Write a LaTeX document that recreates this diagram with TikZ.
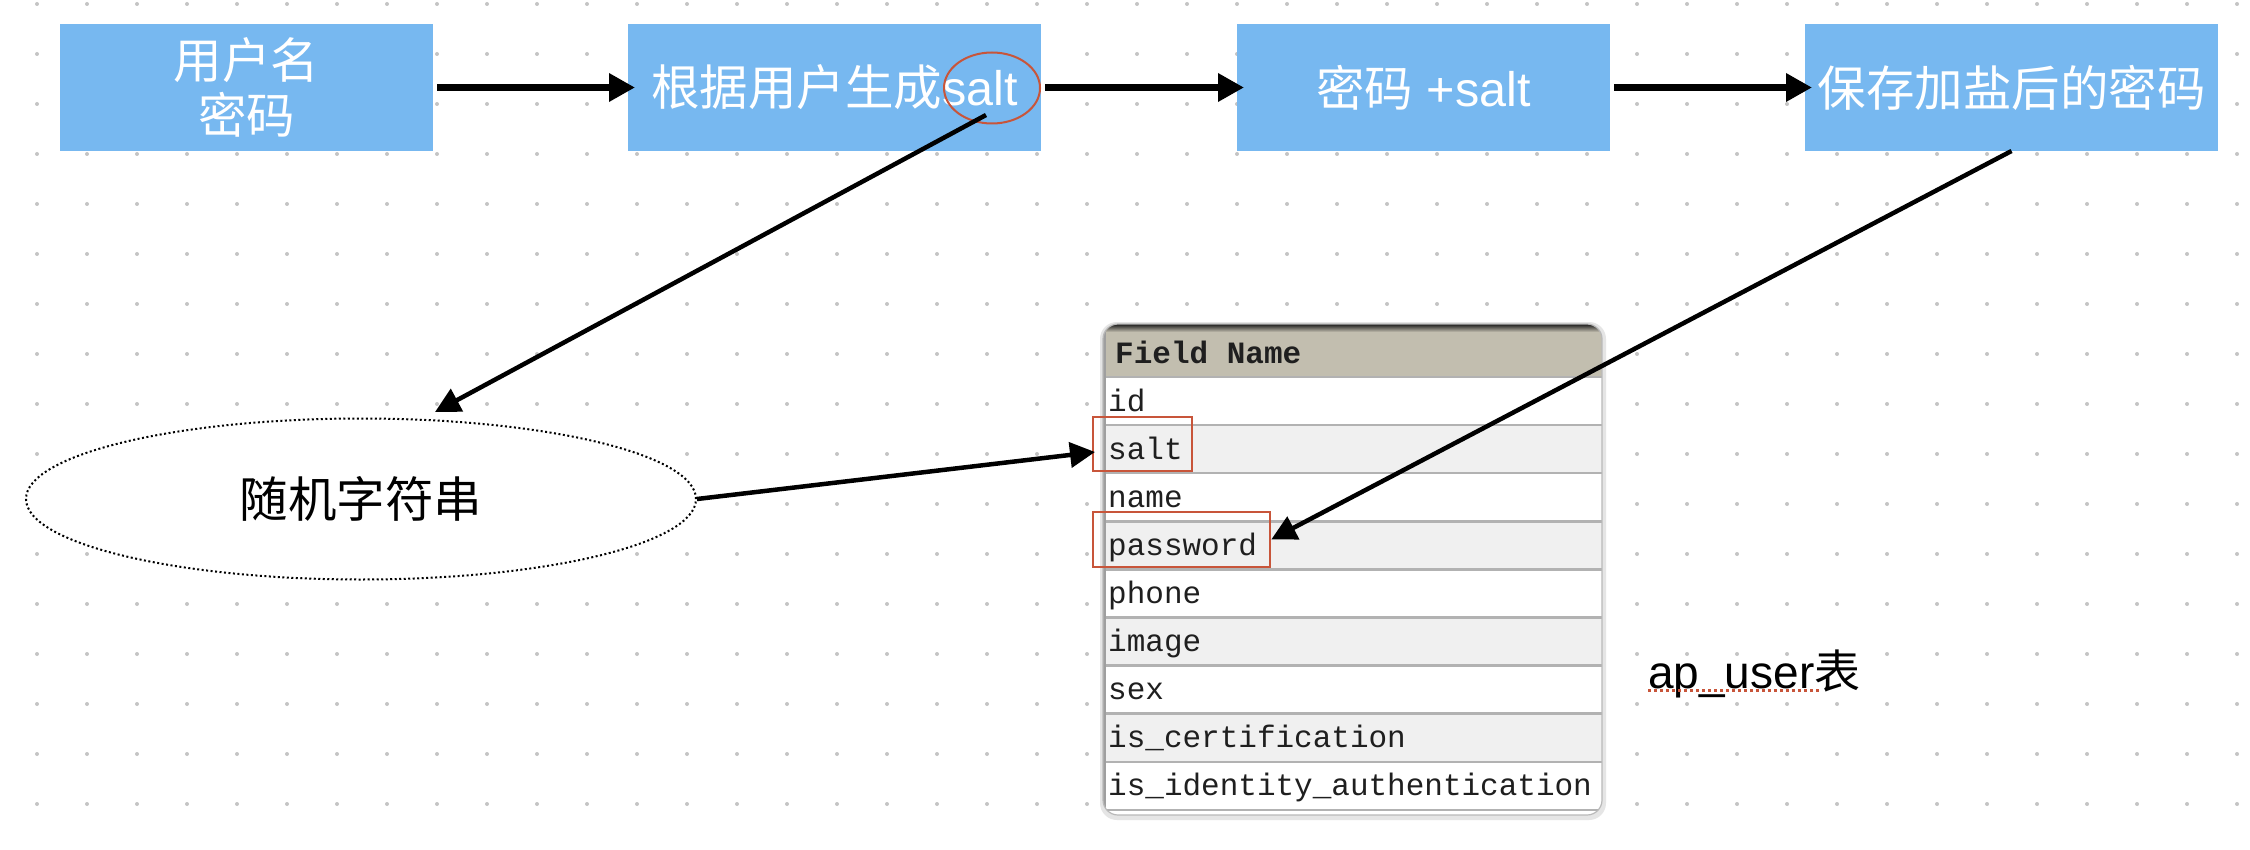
\documentclass[tikz,border=0pt]{standalone}
\usepackage{fontspec}
\setmainfont{Liberation Sans}
\setmonofont{Liberation Mono}
\newfontfamily\cjk{Noto Sans CJK SC}
\usetikzlibrary{arrows.meta,shapes.geometric,calc}
\definecolor{boxblue}{RGB}{119,184,240}
\definecolor{hlred}{RGB}{200,85,58}
\definecolor{hdrgray}{RGB}{194,190,175}
\definecolor{rowgray}{RGB}{240,240,240}
\definecolor{sepgray}{RGB}{178,178,178}
\definecolor{dotgray}{RGB}{196,196,196}
\newcommand\bxfont{\fontsize{48.5}{55}\selectfont}
\newcommand\tbfont{\fontsize{31}{36}\selectfont\ttfamily}
\newcommand\apfont{\fontsize{46}{54}\selectfont}
\begin{document}
\begin{tikzpicture}[x=1pt,y=-1pt,
  box/.style={fill=boxblue, minimum width=#1, minimum height=127, inner sep=0, outer sep=0, text=white, font=\bxfont\cjk, align=center},
  harr/.style={-{Triangle[length=26pt,width=27pt]}, line width=6.5, shorten <=4, shorten >=-7},
  darr/.style={-{Triangle[length=25pt,width=25pt]}, line width=4.5},
  hlbox/.style={draw=hlred, line width=2.5, inner sep=0},
  fld/.style={anchor=base west, inner sep=0, font=\tbfont, text=black!88}]
\useasboundingbox (0,0) rectangle (2250,850);
\fill[white] (0,0) rectangle (2250,850);
% dot grid
\foreach \i in {0,...,44} \foreach \j in {0,...,16} \fill[dotgray] (37+50*\i,4+50*\j) circle (2);

% top row of boxes
\node[box=373] (b1) at (246.5,87.5) {用户名\\密码};
\node[box=413] (b2) at (834.5,87.5) {根据用户生成{\rmfamily salt}};
\node[box=373] (b3) at (1423.5,87.5) {密码{\rmfamily\ +salt}};
\node[box=413] (b4) at (2011.5,87.5) {保存加盐后的密码};
\node[ellipse, draw=hlred, line width=2, minimum width=96, minimum height=71, inner sep=0] (saltc) at (992,88) {};

% random string ellipse
\node[ellipse, draw, fill=white, dash pattern=on 2pt off 2.5pt, line width=2, minimum width=670, minimum height=161, inner sep=0, font=\bxfont\cjk] (rand) at (361,499) {随机字符串};

% table
\fill[black!10, rounded corners=17] (1100,322) rectangle (1606,820);
\begin{scope}
\clip[rounded corners=15] (1103,324) rectangle (1602,815);
\fill[white] (1103,324) rectangle (1602,815);
\fill[hdrgray] (1103,330) rectangle (1602,376);
\shade[top color=black!90, bottom color=hdrgray] (1103,324) rectangle (1602,332);
\foreach \k in {1,3,5,7} \fill[rowgray] (1103,377+48.1*\k) rectangle (1602,377+48.1*\k+48.1);
\foreach \k in {0,...,9} \draw[sepgray, line width=2.5] (1103,377+48.1*\k) -- (1602,377+48.1*\k);
\draw[gray!75, line width=3] (1104.5,330) -- (1104.5,815);
\end{scope}
\draw[gray!55, line width=1.2, rounded corners=15] (1103,324) rectangle (1602,815);
\node[fld, font=\tbfont\bfseries] (fh) at (1115,363) {Field Name};
\foreach \t [count=\k from 0] in {id,salt,name,password,phone,image,sex,is\_certification,is\_identity\_authentication}
  \node[fld] (f\k) at (1108,377+48.1*\k+34) {\t};
\node[hlbox, minimum width=99, minimum height=54] (saltbox) at (1142.5,444) {};
\node[hlbox, minimum width=177, minimum height=55] (pwbox) at (1181.5,539.5) {};

% table caption
\node[anchor=base west, inner sep=0, font=\apfont] (cap) at (1648,688) {ap\_user{\cjk 表}};
\coordinate (ul) at ($(cap.base west)+(0,2)$);
\draw[hlred, line width=3, dash pattern=on 3pt off 3pt] (ul) -- ++(172,0);

% connectors
\coordinate (d1s) at (986,115);
\coordinate (d1e) at (435,412);
\coordinate (d2e) at (1095,452);
\draw[harr] (b1) -- (b2);
\draw[harr] (b2) -- (b3);
\draw[harr] (b3) -- (b4);
\draw[darr] (d1s) -- (d1e);
\draw[darr] (rand.east) -- (d2e);
\draw[darr] (b4.south) -- (pwbox.east);
\end{tikzpicture}
\end{document}
